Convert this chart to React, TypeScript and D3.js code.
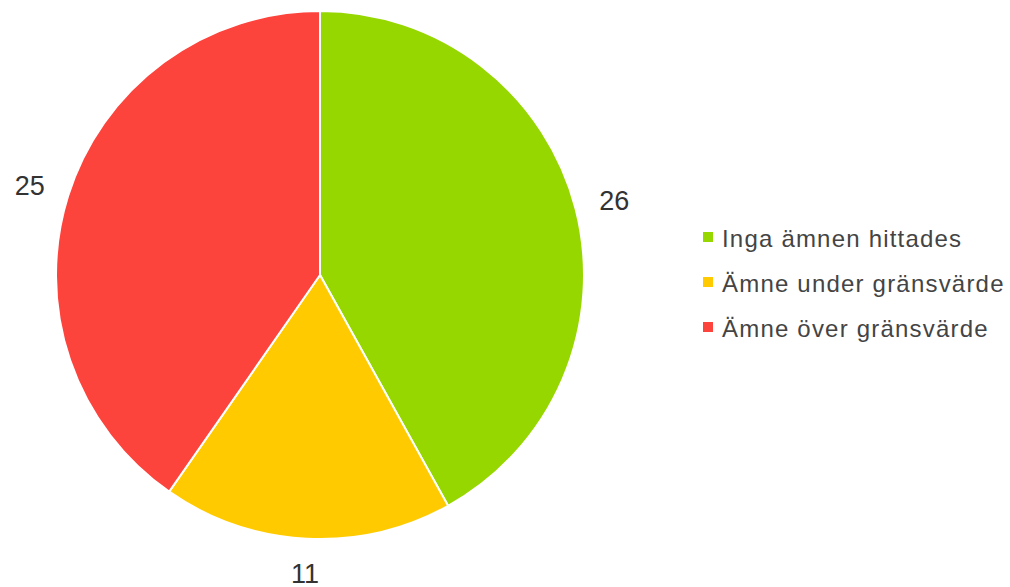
import * as d3 from 'd3';

const categories = ['Inga ämnen hittades', 'Ämne under gränsvärde', 'Ämne över gränsvärde'];
const values = [26, 11, 25];
const colors = ['#97d700', '#ffcb00', '#fc433c'];

const width = 1010;
const height = 587;
const font = 'Liberation Sans, Arial, sans-serif';

export default function App() {
  const cx = 320;
  const cy = 275;
  const radius = 264;
  const labelGap = 23;
  const labelSize = 27;

  const pie = d3
    .pie<number>()
    .sort(null)
    .value((d) => d);
  const arcs = pie(values);
  const arc = d3.arc<d3.PieArcDatum<number>>().innerRadius(0).outerRadius(radius);

  const legendY = d3.scalePoint<string>().domain(categories).range([237, 327]);

  return (
    <div style={{ position: 'absolute', left: 0, top: 0 }}>
      <svg width={width} height={height} style={{ display: 'block', background: '#fff' }}>
        <g transform={`translate(${cx},${cy})`}>
          {arcs.map((a, i) => (
            <path key={i} d={arc(a) ?? ''} fill={colors[i]} stroke="#fff" strokeWidth={2} />
          ))}
          {arcs.map((a, i) => {
            const mid = (a.startAngle + a.endAngle) / 2;
            const s = Math.sin(mid);
            const c = Math.cos(mid);
            // push the label out so its box clears the rim
            const halfW = (String(a.data).length * 0.556 * labelSize) / 2;
            const halfH = 10;
            const r = radius + labelGap + halfW * Math.abs(s) + halfH * Math.abs(c);
            return (
              <text
                key={i}
                x={r * s}
                y={-r * c + 2}
                textAnchor="middle"
                dominantBaseline="central"
                fontFamily={font}
                fontSize={labelSize}
                fill="#333"
              >
                {a.data}
              </text>
            );
          })}
        </g>
        <g fontFamily={font} fontSize={24} fill="#444" letterSpacing={1.2}>
          {categories.map((c, i) => (
            <g key={c} transform={`translate(703,${legendY(c)})`}>
              <rect x={0} y={-5} width={10} height={10} fill={colors[i]} />
              <text x={19} y={1} dominantBaseline="central">
                {c}
              </text>
            </g>
          ))}
        </g>
      </svg>
    </div>
  );
}
